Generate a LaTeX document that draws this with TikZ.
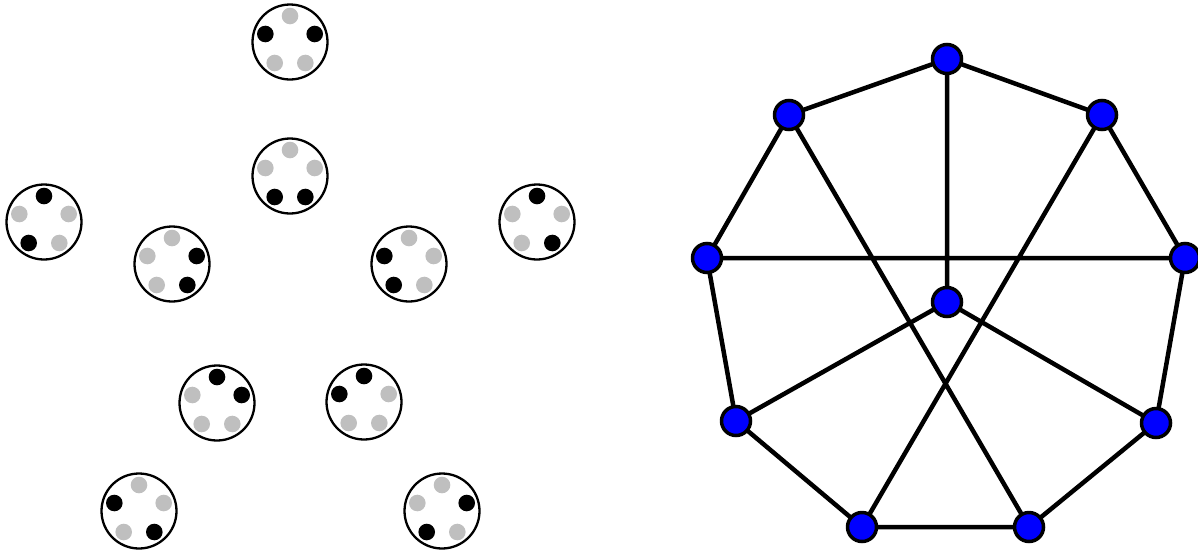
\documentclass[tikz,border=0pt]{standalone}
\begin{document}
\begin{tikzpicture}[x=1pt,y=-1pt,
  bigc/.style={circle,draw=black,line width=2.3pt,minimum size=75pt,inner sep=0pt},
  dotb/.style={fill=black},
  dotg/.style={fill=dotgray},
  gnode/.style={circle,draw=black,fill=blue,line width=3.5pt,minimum size=29pt,inner sep=0pt},
  gedge/.style={line width=4.5pt,black}]
\definecolor{dotgray}{RGB}{191,191,191}
\useasboundingbox (0,0) rectangle (1198,552);
% left panel: circles with five dots (top, UR, LR, LL, UL)
\foreach \n/\cx/\cy/\a/\b/\c/\d/\e in {
  c1/290/42/g/b/g/g/b,
  c2/290/176/g/g/b/b/g,
  c3/44/222/b/g/g/b/g,
  c4/172/264/g/b/b/g/g,
  c5/409/264/g/g/g/b/b,
  c6/537/222/b/g/b/g/g,
  c7/217/403/b/b/g/g/g,
  c8/364/402/b/g/g/g/b,
  c9/139/511/g/g/b/g/b,
  c10/442/511/g/b/g/b/g}{
  \node[bigc] (\n) at (\cx,\cy) {};
  \fill[dot\a] (\n.center) ++(0,-26) circle[radius=8.3pt];
  \fill[dot\b] (\n.center) ++(24.7,-8) circle[radius=8.3pt];
  \fill[dot\c] (\n.center) ++(15.3,21) circle[radius=8.3pt];
  \fill[dot\d] (\n.center) ++(-15.3,21) circle[radius=8.3pt];
  \fill[dot\e] (\n.center) ++(-24.7,-8) circle[radius=8.3pt];
}
% right panel: graph
\coordinate (pT) at (947,59);
\coordinate (pUL) at (789,115);
\coordinate (pUR) at (1102,115);
\coordinate (pL) at (707,258);
\coordinate (pR) at (1185,258);
\coordinate (pC) at (947,302);
\coordinate (pLL) at (736,421);
\coordinate (pLR) at (1156,423);
\coordinate (pBL) at (862,527);
\coordinate (pBR) at (1029,527);
\draw[gedge] (pT) -- (pUL) (pT) -- (pUR) (pT) -- (pC)
  (pUL) -- (pL) (pUL) -- (pBR) (pUR) -- (pR) (pUR) -- (pBL)
  (pL) -- (pR) (pL) -- (pLL) (pR) -- (pLR)
  (pC) -- (pLL) (pC) -- (pLR) (pLL) -- (pBL) (pLR) -- (pBR) (pBL) -- (pBR);
\foreach \p in {T,UL,UR,L,R,C,LL,LR,BL,BR}
  \node[gnode] (n\p) at (p\p) {};
\end{tikzpicture}
\end{document}
